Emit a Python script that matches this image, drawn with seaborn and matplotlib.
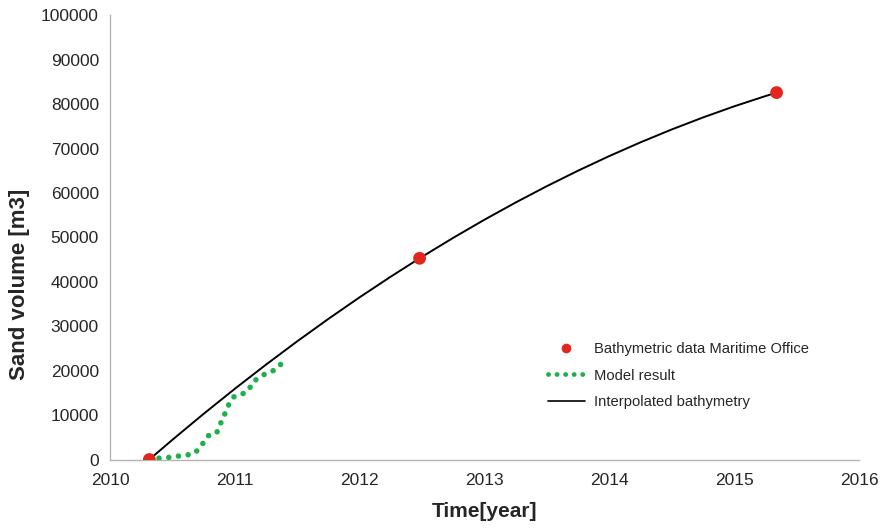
import matplotlib
matplotlib.use("Agg")
import matplotlib.pyplot as plt
import seaborn as sns
import pandas as pd
from matplotlib.ticker import FormatStrFormatter, MultipleLocator
from matplotlib.lines import Line2D

# ---- data ----
obs_year = [2010.315, 2012.48, 2015.34]
obs_volume = [0, 45300, 82600]

model_year = [2010.315, 2010.374, 2010.454, 2010.529, 2010.601, 2010.673, 2010.716, 2010.788,
              2010.855, 2010.876, 2010.908, 2010.929, 2010.962, 2010.994, 2011.060,
              2011.111, 2011.143, 2011.202, 2011.250, 2011.314, 2011.368]
model_volume = [0, 270, 405, 720, 950, 1300, 2520, 5360, 5970, 7700, 9200, 11100, 12950,
                14150, 14750, 15590, 17450, 18580, 19400, 20080, 21430]

interp_year = [2010.315, 2010.5, 2010.75, 2011.0, 2011.25, 2011.5, 2011.75, 2012.0, 2012.25,
               2012.48, 2012.75, 2013.0, 2013.25, 2013.5, 2013.75, 2014.0, 2014.25, 2014.5,
               2014.75, 2015.0, 2015.25, 2015.34]
interp_volume = [0, 4445, 10283, 15924, 21368, 26617, 31670, 36526, 41186,
                 45300, 49919, 53991, 57866, 61546, 65030, 68317, 71408, 74303,
                 77002, 79506, 81812, 82600]

x_ticks = [2010, 2011, 2012, 2013, 2014, 2015, 2016]
labels = ["Bathymetric data Maritime Office", "Model result", "Interpolated bathymetry"]

# ---- styling ----
sns.set_style("white")
plt.rcParams["font.family"] = ["Liberation Sans", "DejaVu Sans"]

red = "#E3261E"
green = "#1FB04C"
grey = "#B5B5B5"
txt = "#262626"
dot_style = (0, (0.01, 1.75))

fig = plt.figure(figsize=(8.85, 5.28), dpi=100)
ax = fig.add_axes([0.1243, 0.1297, 0.8463, 0.8413])

df_i = pd.DataFrame({"year": interp_year, "vol": interp_volume})
df_m = pd.DataFrame({"year": model_year, "vol": model_volume})
df_o = pd.DataFrame({"year": obs_year, "vol": obs_volume})

sns.lineplot(data=df_i, x="year", y="vol", ax=ax, color="black", linewidth=1.4,
             sort=False, estimator=None, zorder=2)
sns.lineplot(data=df_m, x="year", y="vol", ax=ax, color=green, linewidth=4.0,
             sort=False, estimator=None, zorder=3)
ax.lines[-1].set_linestyle(dot_style)
ax.lines[-1].set_dash_capstyle("round")
sns.scatterplot(data=df_o, x="year", y="vol", ax=ax, color=red, s=85,
                edgecolor="none", zorder=4)

ax.set_xlim(2010, 2016)
ax.set_ylim(0, 100000)
ax.set_xticks(x_ticks)
ax.yaxis.set_major_locator(MultipleLocator(10000))
ax.xaxis.set_major_formatter(FormatStrFormatter("%d"))
ax.yaxis.set_major_formatter(FormatStrFormatter("%d"))

for s in ["top", "right"]:
    ax.spines[s].set_visible(False)
for s in ["left", "bottom"]:
    ax.spines[s].set_color(grey)
    ax.spines[s].set_linewidth(1.0)
ax.tick_params(axis="both", which="major", direction="out", length=4, width=1,
               color=grey, labelcolor=txt, labelsize=12.5, pad=4)
ax.tick_params(axis="x", pad=6)

ax.set_xlabel("Time[year]", fontsize=15, fontweight="bold", color=txt)
ax.set_ylabel("Sand volume [m3]", fontsize=16, fontweight="bold", color=txt)
ax.xaxis.set_label_coords(0.5, -0.095)
ax.yaxis.set_label_coords(-0.107, 0.395)

handles = [
    Line2D([], [], linestyle="none", marker="o", markersize=7, color=red, markeredgecolor="none"),
    Line2D([], [], linestyle=dot_style, linewidth=3.5, color=green, dash_capstyle="round"),
    Line2D([], [], color="black", linewidth=1.2),
]
leg = ax.legend(handles, labels, loc="upper left", bbox_to_anchor=(548 / 885, 1 - 342 / 528),
                bbox_transform=fig.transFigure, frameon=False, fontsize=10.6,
                handlelength=2.5, handletextpad=0.6, labelspacing=0.85, borderpad=0,
                borderaxespad=0)
for t in leg.get_texts():
    t.set_color(txt)

fig.savefig("out.png", dpi=100)
